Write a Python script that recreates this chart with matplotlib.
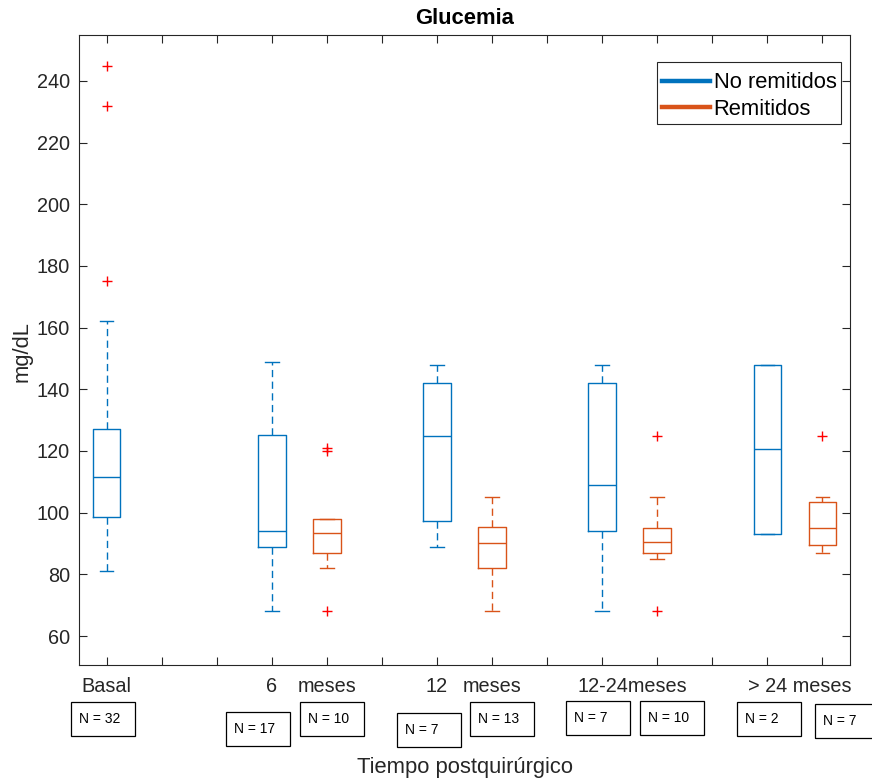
import matplotlib
matplotlib.use("Agg")
import matplotlib.pyplot as plt
from matplotlib.lines import Line2D
from matplotlib.patches import Rectangle

plt.rcParams['font.family'] = ['Liberation Sans', 'DejaVu Sans']

# ---------------- data ----------------
groups = ["Basal", "6 meses", "12 meses", "12-24 meses", "> 24 meses"]
series = ["No remitidos", "Remitidos"]

# No remitidos (blue)
blue_pos = [1, 4, 7, 10, 13]
blue_whislo = [81, 68, 89, 68, 93]
blue_q1 = [98.7, 88.9, 97.2, 94.0, 93.0]
blue_med = [111.5, 94.2, 125.0, 109.0, 120.5]
blue_q3 = [127.0, 125.3, 142.0, 142.0, 148.0]
blue_whishi = [162, 149, 148, 148, 148]
blue_fliers = [[175, 232, 245], [], [], [], []]
blue_n = [32, 17, 7, 7, 2]

# Remitidos (orange)
orange_pos = [5, 8, 11, 14]
orange_whislo = [82, 68, 85, 87]
orange_q1 = [87.0, 82.0, 87.0, 89.6]
orange_med = [93.5, 90.2, 90.6, 95.0]
orange_q3 = [98.0, 95.5, 95.0, 103.5]
orange_whishi = [98, 105, 105, 105]
orange_fliers = [[68, 120, 121], [], [68, 125], [125]]
orange_n = [10, 13, 10, 7]

xtick_labels = ["Basal", "6", "meses", "12", "meses", "12-24meses", "> 24 meses"]
xtick_label_pos = [1, 4, 5, 7, 8, 10.54, 13.59]

BLUE = "#0072BD"
ORANGE = "#D95319"
AXC = "#262626"

W, H = 872, 780
fig = plt.figure(figsize=(W / 100, H / 100), dpi=100)
ax = fig.add_axes([79 / W, 115 / H, 771 / W, 630 / H])


def make_stats(lo, q1, med, q3, hi, fl):
    return [dict(whislo=a, q1=b, med=c, q3=d, whishi=e, fliers=f)
            for a, b, c, d, e, f in zip(lo, q1, med, q3, hi, fl)]


def draw(stats, pos, color):
    lw = 1.0
    ax.bxp(stats, positions=pos, widths=0.5, capwidths=0.25,
           manage_ticks=False, showfliers=True,
           boxprops=dict(color=color, linewidth=lw),
           medianprops=dict(color=color, linewidth=lw),
           whiskerprops=dict(color=color, linewidth=lw, linestyle=(0, (5.2, 3.2))),
           capprops=dict(color=color, linewidth=lw),
           flierprops=dict(marker='+', markeredgecolor='#FF0000', markersize=7.5,
                           markeredgewidth=1.0, linestyle='none'))


draw(make_stats(blue_whislo, blue_q1, blue_med, blue_q3, blue_whishi, blue_fliers),
     blue_pos, BLUE)
draw(make_stats(orange_whislo, orange_q1, orange_med, orange_q3, orange_whishi, orange_fliers),
     orange_pos, ORANGE)

ax.set_xlim(0.5, 14.5)
ax.set_ylim(50.6, 254.9)
ax.set_yticks(range(60, 241, 20))
ax.set_xticks(range(1, 15))
ax.set_xticklabels([])
ax.tick_params(axis='both', direction='in', length=5.5, width=0.8, color=AXC,
               labelcolor=AXC, labelsize=14.3, top=True, right=True, pad=6.5)
for s in ax.spines.values():
    s.set_color(AXC)
    s.set_linewidth(0.8)

# category labels under axis
tr = ax.get_xaxis_transform()
for lab, p in zip(xtick_labels, xtick_label_pos):
    ax.text(p, -21 / 630, lab, transform=tr, ha='center', va='center',
            fontsize=14.3, color=AXC)

# title and axis labels
fig.text((79 + 771 / 2) / W, 1 - 18 / H, "Glucemia", ha='center', va='center',
         fontsize=15.8, fontweight='bold', color='black')
fig.text(22 / W, 1 - 352 / H, "mg/dL", rotation=90, ha='center', va='center',
         fontsize=15.8, color=AXC)
fig.text((79 + 771 / 2) / W, 1 - 767 / H, "Tiempo postquirúrgico", ha='center',
         va='center', fontsize=15.8, color=AXC)

# legend (frame drawn separately, beneath the legend)
ax.add_patch(Rectangle((657 / W, 1 - 124 / H), 184 / W, 62 / H,
                       transform=fig.transFigure, facecolor='white',
                       edgecolor=AXC, linewidth=0.8, zorder=4, clip_on=False))
handles = [Line2D([], [], color=BLUE, lw=3.2), Line2D([], [], color=ORANGE, lw=3.2)]
leg = ax.legend(handles, series, loc='upper right',
                bbox_to_anchor=((841 - 79) / 771, (665 - 68) / 630),
                fontsize=15.8, frameon=False, borderpad=0.2, handlelength=2.2,
                handletextpad=0.15, labelspacing=0.25, borderaxespad=0)
leg.set_zorder(6)

# N boxes (annotations)
n_values = [blue_n[0], blue_n[1], orange_n[0], blue_n[2], orange_n[1],
            blue_n[3], orange_n[2], blue_n[4], orange_n[3]]
box_left = [71, 226, 300, 397, 470, 566, 640, 737, 815]
box_top = [702, 712, 702, 713, 702, 701, 701, 702, 704]
box_w, box_h = 64, 34
for n, bl, bt in zip(n_values, box_left, box_top):
    rect = Rectangle((bl / W, 1 - (bt + box_h) / H), box_w / W, box_h / H,
                     transform=fig.transFigure, fill=False, edgecolor='black',
                     linewidth=0.9)
    fig.add_artist(rect)
    fig.text((bl + 8) / W, 1 - (bt + box_h / 2) / H, f"N = {n}", ha='left',
             va='center', fontsize=10, color='black')

fig.savefig("out.png", dpi=100)
